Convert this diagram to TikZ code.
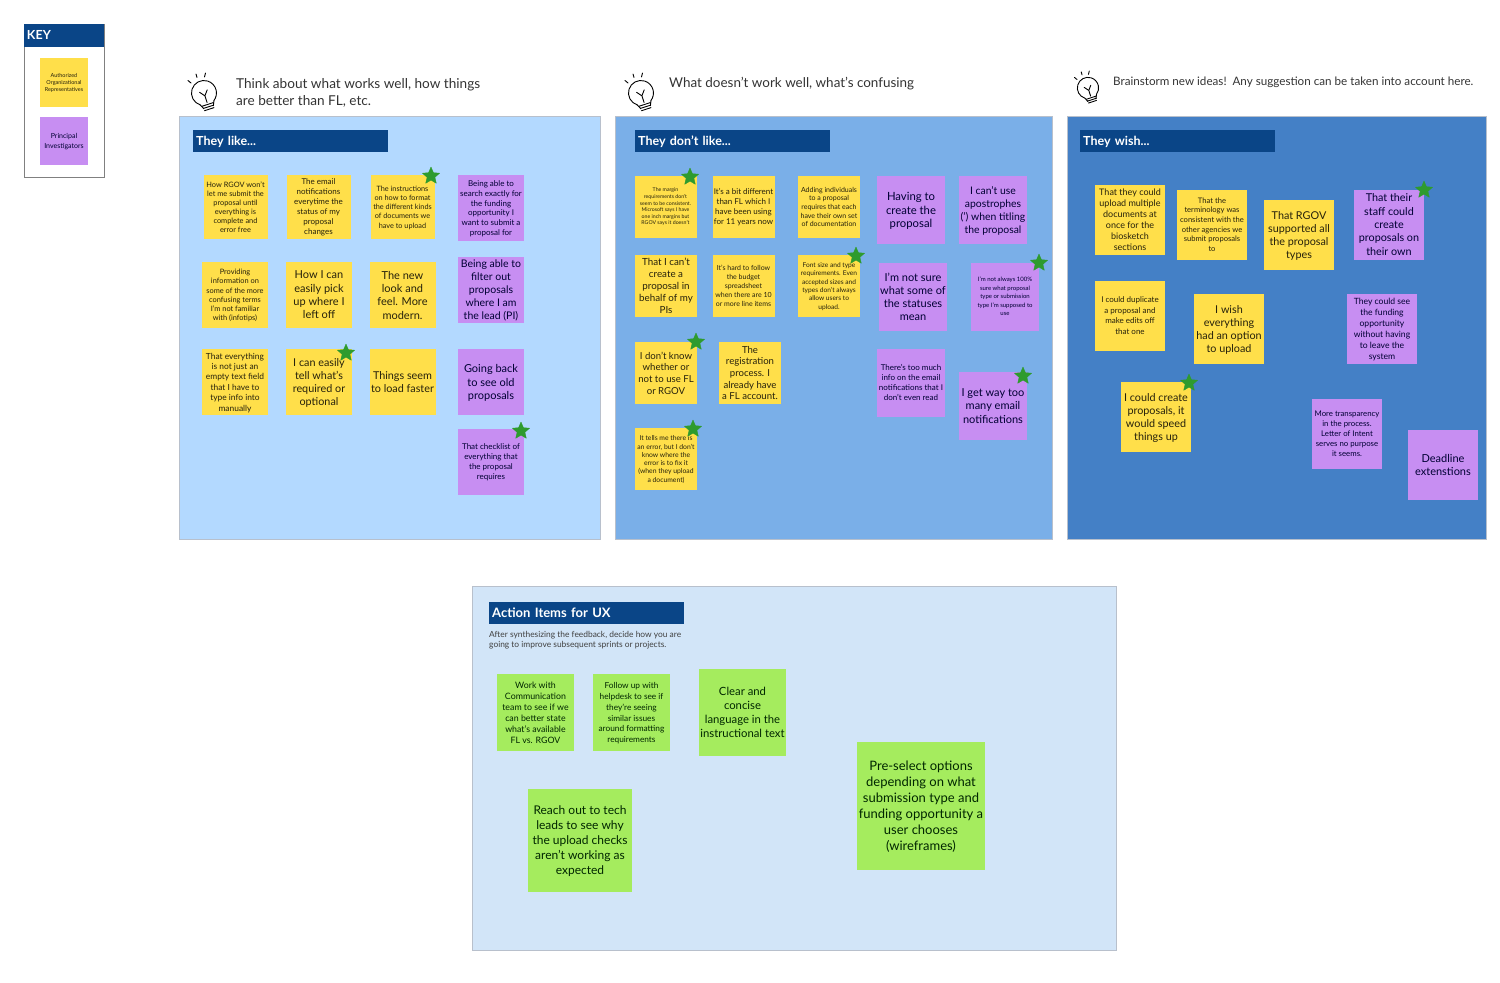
\documentclass[tikz,border=0pt]{standalone}
\usepackage{fontspec}
\setmainfont{Lato}
\usetikzlibrary{shapes.geometric}
\definecolor{navy}{HTML}{0A4587}
\definecolor{noteyellow}{HTML}{FFDF4A}
\definecolor{notepurple}{HTML}{C78EF2}
\definecolor{notegreen}{HTML}{A5EC5E}
\definecolor{starcolor}{HTML}{2E9B2E}
\definecolor{likefill}{HTML}{B3D9FF}
\definecolor{dislikefill}{HTML}{7AAFE8}
\definecolor{wishfill}{HTML}{4480C6}
\definecolor{actionfill}{HTML}{D2E5F8}
\definecolor{framegray}{HTML}{B8C0CC}

\begin{document}
\begin{tikzpicture}[
  x=1pt, y=-1pt,
  frame/.style={rectangle, draw=framegray, line width=1pt, inner sep=0pt},
  titlebar/.style={rectangle, fill=navy, text=white, inner xsep=3pt, inner ysep=0pt, text width=189pt, minimum height=22pt, text height=9.5pt, text depth=1.5pt, align=left, anchor=west, font=\fontsize{12.5}{15}\selectfont\bfseries},
  note/.style={rectangle, inner sep=0pt, align=center},
  ynote/.style={note, fill=noteyellow, text=black!85!noteyellow},
  pnote/.style={note, fill=notepurple, text=black!80!blue},
  gnote/.style={note, fill=notegreen, text=black!85!green},
  sq/.style={minimum width=#1, minimum height=#1},
  fs/.style 2 args={font=\fontsize{#1}{#2}\selectfont, text depth=-0.1*#1pt},
  greenstar/.style={star, star points=5, star point ratio=2.2, fill=starcolor, draw=starcolor, line join=round, inner sep=0pt, minimum size=18pt},
  heading/.style={anchor=west, inner sep=0pt, align=left, text=black!80},
  bulb/.pic={
    \begin{scope}[rotate=18, line width=0.9pt, line cap=round]
      \draw (-7.2,10.2) arc[start angle=125, end angle=415, radius=12.5];
      \draw (-7.2,10.2) -- (-5,15) (7.2,10.2) -- (5,15);
      \draw (-6,12) -- (6,12) (-5.5,14.5) -- (5.5,14.5) (-5,17) -- (5,17);
      \draw (0,10) -- (0,3) -- (-4,-2) (0,3) -- (4,-2);
    \end{scope}
    \draw[line width=0.9pt, line cap=round] (-16,-12.5) -- (-13,-10) (-8,-19) -- (-7,-15.5) (1.5,-20) -- (0.5,-16);
  }
]
\useasboundingbox (0,0) rectangle (1500,983);

% Key
\node[frame, draw=gray, fill=white, minimum width=80pt, minimum height=153pt] (keyframe) at (64,100.5) {};
\node[rectangle, fill=navy, text=white, inner xsep=3pt, inner ysep=0pt, text width=74pt, minimum height=23pt, text height=9.5pt, text depth=1pt, font=\fontsize{12.5}{14}\selectfont\bfseries] (keytitle) at (64,35.5) {KEY};
\node[ynote, minimum width=48pt, minimum height=49pt, fs={5.5}{7.3}] (keyaor) at (64,82.5) {Authorized\\Organizational\\Representatives};
\node[pnote, sq=48pt, fs={7}{9.7}] (keypi) at (64,141) {Principal\\Investigators};

% Bulbs and headings
\pic (bulblike) at (204,93) {bulb};
\pic (bulbdislike) at (641,93) {bulb};
\pic[scale=0.85] (bulbwish) at (1088,88) {bulb};
\node[heading, font=\fontsize{13.6}{16.5}\selectfont] (headlike) at (236,93) {Think about what works well, how things\\are better than FL, etc.};
\node[heading, font=\fontsize{13.45}{16}\selectfont] (headdislike) at (669,84) {What doesn't work well, what's confusing};
\node[heading, font=\fontsize{11.65}{14}\selectfont] (headwish) at (1113,82) {Brainstorm new ideas!\ \ Any suggestion can be taken into account here.};

% They like
\node[frame, fill=likefill, minimum width=421pt, minimum height=423pt] (likeframe) at (389.5,327.5) {};
\node[titlebar] (liketitle) at (193,141) {They like...};
\begin{scope}[every node/.append style={sq=64pt}]
  \node[ynote, fs={7.4}{9}] (like1) at (235.5,207) {How RGOV won't\\let me submit the\\proposal until\\everything is\\complete and\\error free};
  \node[ynote, fs={8}{10}] (like2) at (318.5,207) {The email\\notifications\\everytime the\\status of my\\proposal\\changes};
  \node[ynote, fs={7.3}{9.3}] (like3) at (402.5,207) {The instructions\\on how to format\\the different kinds\\of documents we\\have to upload};
\end{scope}
\begin{scope}[every node/.append style={sq=66pt}]
  \node[pnote, fs={8}{9.9}] (like4) at (491,208) {Being able to\\search exactly for\\the funding\\opportunity I\\want to submit a\\proposal for};
  \node[ynote, fs={7.4}{9.2}] (like5) at (235,295) {Providing\\information on\\some of the more\\confusing terms\\I'm not familiar\\with (infotips)};
  \node[ynote, fs={11}{13.3}] (like6) at (319,295) {How I can\\easily pick\\up where I\\left off};
  \node[ynote, fs={11}{13.3}] (like7) at (402.5,295) {The new\\look and\\feel. More\\modern.};
  \node[pnote, fs={10.5}{13}] (like8) at (491,290) {Being able to\\filter out\\proposals\\where I am\\the lead (PI)};
  \node[ynote, fs={8.4}{10.4}] (like9) at (235,382) {That everything\\is not just an\\empty text field\\that I have to\\type info into\\manually};
  \node[ynote, fs={10.8}{13.3}] (like10) at (319,382) {I can easily\\tell what's\\required or\\optional};
  \node[ynote, fs={10.8}{13.3}] (like11) at (402.5,382) {Things seem\\to load faster};
  \node[pnote, fs={11}{13.3}] (like12) at (491,382) {Going back\\to see old\\proposals};
  \node[pnote, fs={8}{10}] (like13) at (491,462) {That checklist of\\everything that\\the proposal\\requires};
\end{scope}
\node[greenstar] (starlike3) at (431,176) {};
\node[greenstar] (starlike10) at (346,353) {};
\node[greenstar] (starlike13) at (521,431) {};

% They don't like
\node[frame, fill=dislikefill, minimum width=437pt, minimum height=423pt] (dislikeframe) at (833.5,327.5) {};
\node[titlebar] (disliketitle) at (635,141) {They don't like...};
\begin{scope}[every node/.append style={sq=62pt}]
  \node[ynote, fs={5.2}{6.6}] (dislike1) at (665.5,206.5) {The margin\\requirements don't\\seem to be consistent.\\Microsoft says I have\\one inch margins but\\RGOV says it doesn't};
  \node[ynote, fs={8}{10}] (dislike2) at (743.5,206.5) {It's a bit different\\than FL which I\\have been using\\for 11 years now};
  \node[ynote, fs={7}{8.6}] (dislike3) at (829,207) {Adding individuals\\to a proposal\\requires that each\\have their own set\\of documentation};
  \node[ynote, fs={9.8}{12}] (dislike6) at (666,286) {That I can't\\create a\\proposal in\\behalf of my\\PIs};
  \node[ynote, fs={7}{9}] (dislike7) at (743.5,286) {It's hard to follow\\the budget\\spreadsheet\\when there are 10\\or more line items};
  \node[ynote, fs={6.6}{8.3}] (dislike8) at (829,286) {Font size and type\\requirements. Even\\accepted sizes and\\types don't always\\allow users to\\upload.};
  \node[ynote, fs={9.6}{11.7}] (dislike11) at (666,373) {I don't know\\whether or\\not to use FL\\or RGOV};
  \node[ynote, fs={9.6}{11.7}] (dislike12) at (750,373) {The\\registration\\process. I\\already have\\a FL account.};
  \node[ynote, fs={6.8}{8.3}] (dislike15) at (666,459) {It tells me there is\\an error, but I don't\\know where the\\error is to fix it\\(when they upload\\a document)};
\end{scope}
\begin{scope}[every node/.append style={sq=68pt}]
  \node[pnote, fs={11.3}{13.7}] (dislike4) at (911,210) {Having to\\create the\\proposal};
  \node[pnote, fs={10.4}{13}] (dislike5) at (993,210) {I can't use\\apostrophes\\(') when titling\\the proposal};
  \node[pnote, fs={11}{13}] (dislike9) at (913,296.5) {I'm not sure\\what some of\\the statuses\\mean};
  \node[pnote, fs={6}{8.5}] (dislike10) at (1005,296.5) {I'm not always 100\%\\sure what proposal\\type or submission\\type I'm supposed to\\use};
  \node[pnote, fs={8}{9.9}] (dislike13) at (911,382.5) {There's too much\\info on the email\\notifications that I\\don't even read};
  \node[pnote, fs={11}{13.7}] (dislike14) at (993,406) {I get way too\\many email\\notifications};
\end{scope}
\node[greenstar] (stardislike1) at (690,177) {};
\node[greenstar] (stardislike8) at (856,256) {};
\node[greenstar] (stardislike10) at (1039,263) {};
\node[greenstar] (stardislike11) at (696,342) {};
\node[greenstar] (stardislike15) at (693,429) {};
\node[greenstar] (stardislike14) at (1023,376) {};

% They wish
\node[frame, fill=wishfill, minimum width=419pt, minimum height=423pt] (wishframe) at (1276.5,327.5) {};
\node[titlebar] (wishtitle) at (1080,141) {They wish...};
\begin{scope}[every node/.append style={sq=70pt}]
  \node[ynote, fs={9}{11}] (wish1) at (1130,219.5) {That they could\\upload multiple\\documents at\\once for the\\biosketch\\sections};
  \node[ynote, fs={7.6}{9.7}] (wish2) at (1212,224.5) {That the\\terminology was\\consistent with the\\other agencies we\\submit proposals\\to};
  \node[ynote, fs={10.8}{13.3}] (wish3) at (1299,235) {That RGOV\\supported all\\the proposal\\types};
  \node[pnote, fs={10.8}{13.3}] (wish4) at (1389,224.5) {That their\\staff could\\create\\proposals on\\their own};
  \node[ynote, fs={8}{10.6}] (wish5) at (1130,315.5) {I could duplicate\\a proposal and\\make edits off\\that one};
  \node[ynote, fs={10.8}{13.3}] (wish6) at (1229,329) {I wish\\everything\\had an option\\to upload};
  \node[pnote, fs={8.6}{11}] (wish7) at (1382,329) {They could see\\the funding\\opportunity\\without having\\to leave the\\system};
  \node[ynote, fs={10.8}{13.3}] (wish8) at (1156,417) {I could create\\proposals, it\\would speed\\things up};
  \node[pnote, fs={7.8}{10}] (wish9) at (1347,434) {More transparency\\in the process.\\Letter of Intent\\serves no purpose\\it seems.};
  \node[pnote, fs={11}{13.7}] (wish10) at (1443,465) {Deadline\\extenstions};
\end{scope}
\node[greenstar] (starwish4) at (1424,190) {};
\node[greenstar] (starwish8) at (1189,383) {};

% Action items
\node[frame, fill=actionfill, minimum width=644pt, minimum height=364pt] (actionframe) at (794,768) {};
\node[titlebar, font=\fontsize{13}{15}\selectfont\bfseries] (actiontitle) at (489,613) {Action Items for UX};
\node[anchor=north west, inner sep=0pt, align=left, text=black!75, font=\fontsize{8.4}{10}\selectfont] (actionsub) at (489,631) {After synthesizing the feedback, decide how you are\\going to improve subsequent sprints or projects.};
\node[gnote, sq=77pt, fs={8.8}{11}] (action1) at (535.5,712.5) {Work with\\Communication\\team to see if we\\can better state\\what's available\\FL vs. RGOV};
\node[gnote, sq=77pt, fs={8.3}{10.9}] (action2) at (631.5,712.5) {Follow up with\\helpdesk to see if\\they're seeing\\similar issues\\around formatting\\requirements};
\node[gnote, sq=87pt, fs={11.3}{14.2}] (action3) at (742.5,712.5) {Clear and\\concise\\language in the\\instructional text};
\node[gnote, minimum width=104pt, minimum height=103pt, fs={12}{15}] (action4) at (580,840.5) {Reach out to tech\\leads to see why\\the upload checks\\aren't working as\\expected};
\node[gnote, sq=128pt, fs={13}{16}] (action5) at (921,806) {Pre-select options\\depending on what\\submission type and\\funding opportunity a\\user chooses\\(wireframes)};

\end{tikzpicture}
\end{document}
